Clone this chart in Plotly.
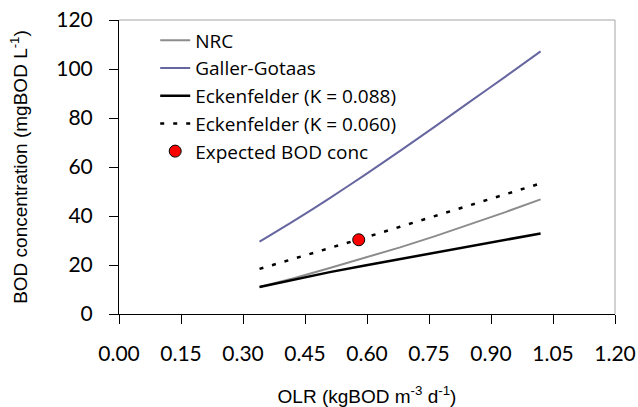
import plotly.graph_objects as go

olr = [0.34, 0.425, 0.51, 0.595, 0.68, 0.765, 0.85, 0.935, 1.02]
nrc = [11.0, 14.7, 18.8, 22.9, 27.2, 31.8, 36.6, 41.6, 46.8]
galler = [29.5, 38.2, 47.3, 56.8, 66.6, 76.6, 86.8, 96.9, 107.2]
eck_088 = [11.0, 14.2, 17.1, 19.8, 22.4, 25.1, 27.8, 30.4, 32.9]
eck_060 = [18.4, 22.6, 26.9, 31.2, 35.6, 40.0, 44.4, 48.8, 53.3]
expected_x = [0.58]
expected_y = [30.3]

x_ticks = [0.0, 0.15, 0.30, 0.45, 0.60, 0.75, 0.90, 1.05, 1.20]
y_ticks = [0, 20, 40, 60, 80, 100, 120]

tick_font = dict(family="Lato", size=21, color="black")
title_font = dict(family="Liberation Sans, Arial", size=19, color="black")

fig = go.Figure()
fig.add_trace(go.Scatter(x=olr, y=nrc, mode="lines", name="NRC",
                         line=dict(color="#8c8c8c", width=2)))
fig.add_trace(go.Scatter(x=olr, y=galler, mode="lines", name="Galler-Gotaas",
                         line=dict(color="#6666a0", width=2, shape="spline", smoothing=0.6)))
fig.add_trace(go.Scatter(x=olr, y=eck_088, mode="lines", name="Eckenfelder (K = 0.088)",
                         line=dict(color="black", width=2.5)))
fig.add_trace(go.Scatter(x=olr, y=eck_060, mode="lines", name="Eckenfelder (K = 0.060)",
                         line=dict(color="black", width=2.5, dash="4px,9px")))
fig.add_trace(go.Scatter(x=expected_x, y=expected_y, mode="markers", name="Expected BOD conc",
                         marker=dict(color="#ff0000", size=12, line=dict(color="black", width=1))))

fig.update_layout(
    width=638, height=407,
    margin=dict(l=119, r=23, t=20, b=93),
    paper_bgcolor="white", plot_bgcolor="white",
    showlegend=True,
    legend=dict(x=0.073, y=0.995, xanchor="left", yanchor="top",
                font=dict(family="Open Sans", size=19, color="black"),
                bgcolor="rgba(0,0,0,0)", tracegroupgap=0, itemwidth=30),
    xaxis=dict(range=[0, 1.2], tickvals=x_ticks, tickformat=".2f", automargin=False,
               showgrid=False, zeroline=False, showline=True, linecolor="black", linewidth=1,
               ticks="outside", ticklen=9, tickcolor="black", tickwidth=1,
               ticklabelstandoff=12, tickfont=tick_font,
               title=dict(text="OLR (kgBOD m<sup>-3</sup> d<sup>-1</sup>)", font=title_font, standoff=30)),
    yaxis=dict(range=[0, 120], tickvals=y_ticks, automargin=False,
               showgrid=False, zeroline=False, showline=True, linecolor="black", linewidth=1,
               ticks="outside", ticklen=9, tickcolor="black", tickwidth=1,
               ticklabelstandoff=12, tickfont=tick_font,
               title=dict(text="BOD concentration (mgBOD L<sup>-1</sup>)", font=title_font, standoff=23)),
    shapes=[
        dict(type="line", xref="paper", yref="paper", x0=0, x1=1, y0=1, y1=1,
             line=dict(color="#a6a6a6", width=1)),
        dict(type="line", xref="paper", yref="paper", x0=1, x1=1, y0=0, y1=1,
             line=dict(color="#a6a6a6", width=1)),
    ],
)

fig.write_html("out.html")
